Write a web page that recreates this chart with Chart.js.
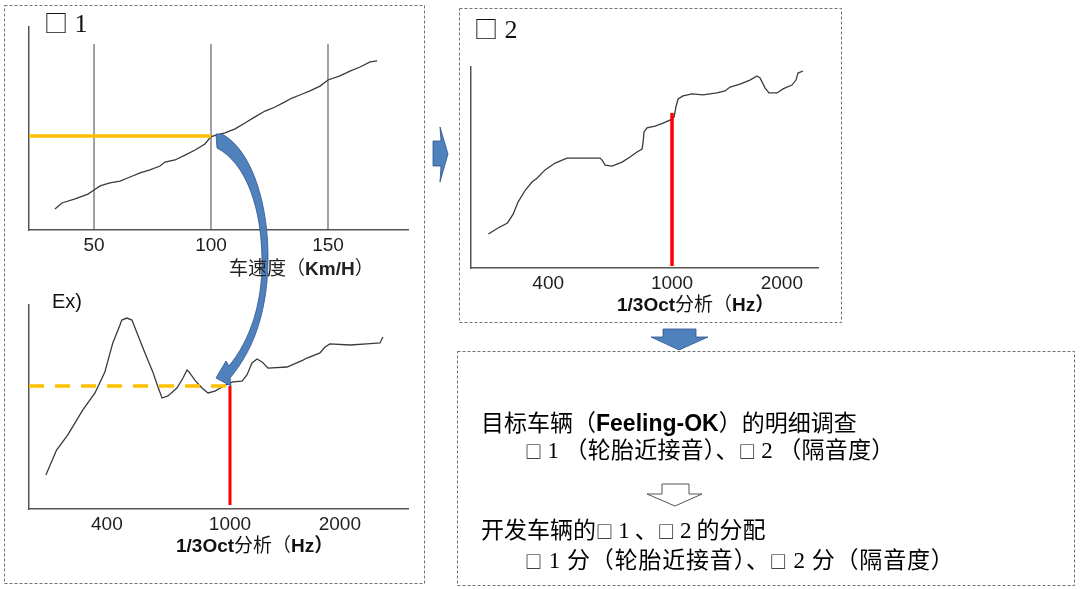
<!DOCTYPE html>
<html><head><meta charset="utf-8">
<script src="https://cdn.jsdelivr.net/npm/chart.js@4"></script>
<style>
html,body{margin:0;padding:0;background:#fff;}
#stage{position:relative;width:1080px;height:589px;overflow:hidden;background:#fff;}
canvas{position:absolute;}
.t{position:absolute;white-space:nowrap;line-height:1;color:#111;font-family:'Noto Sans CJK SC',sans-serif;}
.lat{font-family:'Liberation Sans',Arial,sans-serif;}
.b{font-weight:bold;}
.ser{font-family:'Liberation Serif','Times New Roman',serif;}
.sq{font-size:17px;}
svg{position:absolute;left:0;top:0;}
</style></head>
<body><div id="stage">
<canvas id="c1" width="430" height="262" style="left:0;top:0;width:430px;height:262px"></canvas>
<canvas id="c2" width="430" height="260" style="left:0;top:280px;width:430px;height:260px"></canvas>
<canvas id="c3" width="400" height="260" style="left:440px;top:40px;width:400px;height:260px"></canvas>

<svg width="1080" height="589" viewBox="0 0 1080 589">
  <g fill="none" stroke="#707070" stroke-width="1" stroke-dasharray="3,2">
    <rect x="4.5" y="5.5" width="420" height="578"/>
    <rect x="459.5" y="8.5" width="382" height="314"/>
    <rect x="457.5" y="351.5" width="617" height="234"/>
  </g>
  <g fill="#4f81bd" stroke="#2f528f" stroke-width="0.8" stroke-linejoin="miter">
    <path d="M216,134 L222,134 C252,150 269,205 268,262 C267,315 252,352 230,378 L231,386 L216,378 L226,361 L229,366 C250,340 262,305 262,262 C262,208 246,163 217,148 Z"/>
    <path d="M433,141 L441,141 L440,127 L448,154 L440,182 L441,166 L433,166 Z"/>
    <path d="M663,329 L696,329 L696,337 L708,337 L679,350 L651,337 L663,337 Z"/>
  </g>
  <path d="M662,484 L689,484 L689,494 L702,494 L675,506 L647,494 L662,494 Z" fill="#fff" stroke="#555" stroke-width="1"/>
</svg>

<div class="t" style="left:44px;top:10px;font-size:24px">□<span class="ser" style="font-size:26px"> 1</span></div>
<div class="t" style="left:474px;top:16px;font-size:24px">□<span class="ser" style="font-size:26px"> 2</span></div>
<div class="t lat" style="left:52px;top:291px;font-size:20px">Ex)</div>

<div class="t" style="left:229px;top:257px;font-size:19px;color:#222">车速度（<span class="lat b">Km/H</span>）</div>
<div class="t b" style="left:176px;top:534px;font-size:19px;color:#111"><span class="lat">1/3Oct</span><span style="font-weight:normal">分析（</span><span class="lat">Hz</span>）</div>
<div class="t b" style="left:617px;top:293px;font-size:19px;color:#111"><span class="lat">1/3Oct</span><span style="font-weight:normal">分析（</span><span class="lat">Hz</span>）</div>

<div class="t" style="left:481px;top:410px;font-size:23px;color:#000">目标车辆（<span class="lat b">Feeling-OK</span>）的明细调查</div>
<div class="t" style="left:525px;top:437px;font-size:23px;color:#000;letter-spacing:0.2px"><span class="sq">□</span> <span class="ser">1</span> （轮胎近接音）、<span class="sq">□</span> <span class="ser">2</span> （隔音度）</div>
<div class="t" style="left:481px;top:517px;font-size:23px;color:#000">开发车辆的<span class="sq">□</span> <span class="ser">1</span> 、<span class="sq">□</span> <span class="ser">2</span> 的分配</div>
<div class="t" style="left:525px;top:547px;font-size:23px;color:#000;letter-spacing:0.8px"><span class="sq">□</span> <span class="ser">1</span> 分（轮胎近接音）、<span class="sq">□</span> <span class="ser">2</span> 分（隔音度）</div>
</div>

<script>
// ---------- data ----------
// Chart 1: level vs vehicle speed (km/h)
const speedX = [33.3,36.3,41.9,47.4,50,52.6,56.8,61.1,65.4,69.7,73.9,78.2,80.3,84.6,88.9,93.2,97.4,100,106,110.3,114.5,118.8,123.1,127.4,131.6,134.6,138,142.3,146.6,150,155.1,159.4,163.7,168,171];
const speedLevel = [10.3,13.3,15.3,17.7,19.7,21.7,23.2,24.1,26.1,28.1,29.6,31.5,33.5,34.5,36.9,39.4,42.4,46,47.8,49.8,52.7,55.7,58.6,60.6,63.1,65.0,66.5,68.5,70.9,73.9,75.9,78.3,80.3,82.8,83.3];
const speedTicks = [50,100,150];
const speedTickLabels = ['50','100','150'];
const speedGridTop = 91.6;
const speedRef = 100;
const speedRefLevel = 46.3;

// Chart 2: Ex) spectrum (1/3 oct, Hz)
const exFreq = [254,275,299,334,366,394,418,441,447,464,482,511,531,563,585,603,630,674,705,726,737,770,812,849,894,942,985,1019,1079,1113,1149,1186,1224,1271,1433,1585,1626,1764,1821,1878,2131,2372,2576,2625];
const exLevel = [16.7,28.9,36.3,48.5,56.9,67.2,81.4,90.2,92.6,93.6,92.6,82.8,76.5,67.2,59.8,54.4,55.4,59.3,64.2,68.1,67.2,63.2,59.3,56.9,57.8,59.8,61.3,62.3,62.7,65.7,71.6,73.5,72.1,69.1,69.6,73.0,74.0,76.5,79.4,80.9,80.4,80.9,81.4,84.3];
const exRefFreq = 1000;
const exRefLevel = 60.3;
const exRedBottom = 2;

// Chart 3: spectrum (1/3 oct, Hz)
const isoFreq = [257,276,296,309,320,338,355,369,391,421,460,507,587,596,610,642,691,733,772,801,807,813,831,882,936,985,1013,1025,1039,1072,1135,1216,1328,1397,1442,1536,1635,1709,1743,1798,1843,1939,2015,2131,2186,2214,2285];
const isoLevel = [16.9,19.9,22.4,26.9,32.8,38.8,42.8,44.8,48.8,52.2,54.7,54.7,54.7,53.7,51.2,50.7,52.7,55.2,57.7,59.2,62.2,67.7,69.7,70.6,72.1,73.6,75.1,80.1,84.1,85.6,86.6,86.1,87.1,88.1,90.0,91.5,93.5,95.5,94.5,89.6,87.1,87.1,89.1,91.0,93.5,97.0,98.0];
const isoRefFreq = 1000;
const isoRefLevel = 77.1;
const isoRedBottom = 1;

const freqTicks = [400,1000,2000];
const freqTickLabels = ['400','1000','2000'];

// ---------- custom piecewise-log frequency scale ----------
const LinearBase = Chart.LinearScale || Chart.registry.getScale('linear');
class WarpLogScale extends LinearBase {
  _dec(v) {
    const k = this.options.knots;
    let i = 0;
    while (i < k.length - 2 && v > k[i + 1][0]) i++;
    const a = Math.log10(k[i][0]), b = Math.log10(k[i + 1][0]);
    return k[i][1] + (Math.log10(v) - a) / (b - a) * (k[i + 1][1] - k[i][1]);
  }
  getPixelForValue(v) {
    if (v === null || v === undefined || isNaN(v)) return NaN;
    return this.getPixelForDecimal(this._dec(v));
  }
}
WarpLogScale.id = 'warplog';
WarpLogScale.defaults = {};
Chart.register(WarpLogScale);

const AXIS = '#555';
const LINE = '#3a3a3a';
const tickFont = {family: "'Liberation Sans', Arial, sans-serif", size: 19};

function pts(xs, ys) { return xs.map((x, i) => ({x: x, y: ys[i]})); }
function ds(data, color, width, extra) {
  return Object.assign({data: data, borderColor: color, borderWidth: width, pointRadius: 0, fill: false, tension: 0, borderCapStyle: 'butt'}, extra || {});
}
function xAxis(base, ticks, labels) {
  return Object.assign({
    afterBuildTicks: s => { s.ticks = ticks.map(v => ({value: v})); },
    ticks: {callback: (v, i) => labels[i], font: tickFont, color: '#1e1e1e', padding: 4, autoSkip: false, maxRotation: 0, minRotation: 0},
    grid: {display: true, drawOnChartArea: false, drawTicks: false},
    border: {display: true, color: AXIS, width: 1.5},
    afterFit: s => { s.height = 30; }
  }, base);
}
function yAxis() {
  return {type: 'linear', min: 0, max: 100, ticks: {display: false}, grid: {display: false},
    border: {display: true, color: AXIS, width: 1.5}, afterFit: s => { s.width = 0; }};
}
function opts(x, pad) {
  return {responsive: false, animation: false, events: [], layout: {padding: pad},
    plugins: {legend: {display: false}, tooltip: {enabled: false}},
    scales: {x: x, y: yAxis()}};
}

// Chart 1
new Chart(document.getElementById('c1'), {
  type: 'line',
  data: {datasets: [
    ds([{x: 22.2, y: speedRefLevel}, {x: speedRef, y: speedRefLevel}], '#ffc000', 3.5),
    ds(pts(speedX, speedLevel), LINE, 1.3),
    ...speedTicks.map(v => ds([{x: v, y: 0}, {x: v, y: speedGridTop}], '#444', 1))
  ]},
  options: opts(xAxis({type: 'linear', min: 22.2, max: 184.2}, speedTicks, speedTickLabels), {left: 29, top: 27, right: 22, bottom: 2})
});

// Chart 2
new Chart(document.getElementById('c2'), {
  type: 'line',
  data: {datasets: [
    ds([{x: exRefFreq, y: exRefLevel}, {x: exRefFreq, y: exRedBottom}], '#ff0000', 3),
    ds([{x: 224, y: exRefLevel}, {x: exRefFreq, y: exRefLevel}], '#ffc000', 3.5, {borderDash: [15, 11]}),
    ds(pts(exFreq, exLevel), LINE, 1.3)
  ]},
  options: opts(xAxis({type: 'warplog', min: 224, max: 3074, knots: [[224, 0], [1000, 0.5303], [3074, 1]]}, freqTicks, freqTickLabels), {left: 29, top: 25, right: 22, bottom: 1})
});

// Chart 3
new Chart(document.getElementById('c3'), {
  type: 'line',
  data: {datasets: [
    ds([{x: isoRefFreq, y: isoRefLevel}, {x: isoRefFreq, y: isoRedBottom}], '#ff0000', 3.5),
    ds(pts(isoFreq, isoLevel), LINE, 1.3)
  ]},
  options: opts(xAxis({type: 'warplog', min: 226, max: 2512, knots: [[226, 0], [1000, 0.5793], [2512, 1]]}, freqTicks, freqTickLabels), {left: 31, top: 27, right: 22, bottom: 2})
});
</script>
</body></html>
